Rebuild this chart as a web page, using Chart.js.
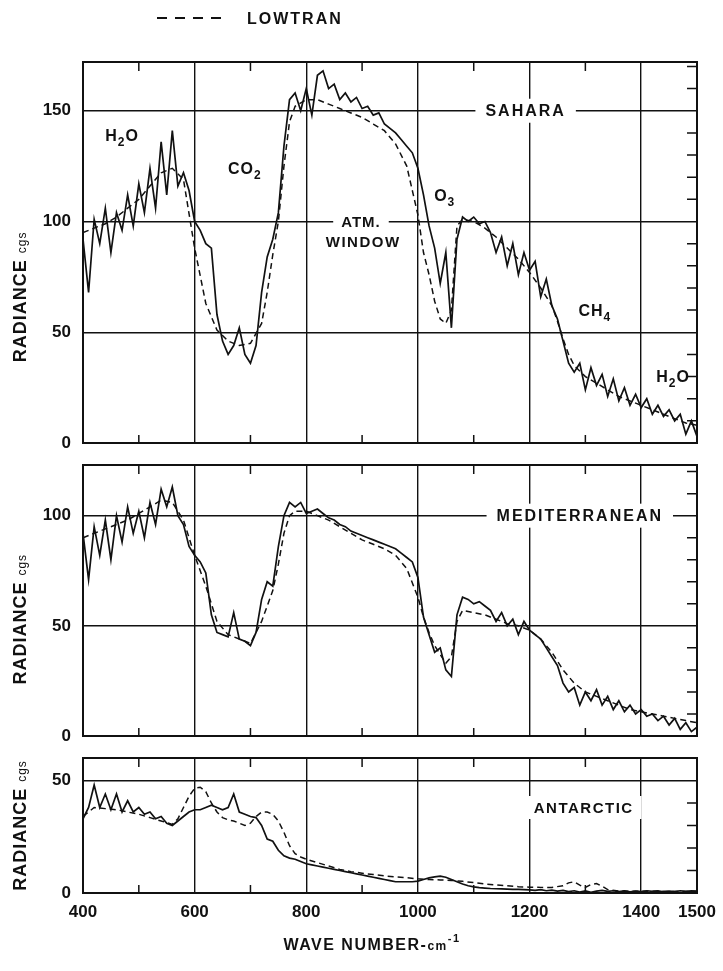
<!DOCTYPE html>
<html><head><meta charset="utf-8">
<script src="https://cdn.jsdelivr.net/npm/chart.js@4/dist/chart.umd.min.js"></script>
<style>
html,body{margin:0;padding:0;background:#fff;}
body{width:723px;height:971px;position:relative;overflow:hidden;}
.p{position:absolute;left:0;width:723px;}
</style></head><body>
<div class="p" style="top:0;height:455px"><canvas id="c1"></canvas></div>
<div class="p" style="top:455px;height:293px"><canvas id="c2"></canvas></div>
<div class="p" style="top:748px;height:223px"><canvas id="c3"></canvas></div>
<script>
// ---------- DATA ----------
const wavenumbers = [400,410,420,430,440,450,460,470,480,490,500,510,520,530,540,550,560,570,580,590,
600,610,620,630,640,650,660,670,680,690,700,710,720,730,740,750,760,770,780,790,
800,810,820,830,840,850,860,870,880,890,900,910,920,930,940,950,960,970,980,990,
1000,1010,1020,1030,1040,1050,1060,1070,1080,1090,1100,1110,1120,1130,1140,1150,1160,1170,1180,1190,
1200,1210,1220,1230,1240,1250,1260,1270,1280,1290,1300,1310,1320,1330,1340,1350,1360,1370,1380,1390,
1400,1410,1420,1430,1440,1450,1460,1470,1480,1490,1500];

const saharaMeasured = [92,68,101,90,106,86,104,96,112,98,
117,104,124,106,136,112,141,116,122,114,
100,96,90,88,58,46,40,44,52,40,
36,44,68,84,92,104,134,155,158,150,
160,148,166,168,160,162,155,158,154,156,
151,152,148,149,144,142,140,137,134,131,
124,112,98,88,72,86,52,92,102,100,
102,99,100,95,86,93,80,90,76,86,
78,82,66,74,62,56,46,36,32,36,
24,34,26,31,21,29,19,25,17,22,
16,20,13,17,12,15,10,13,4,10,3];

const saharaLowtranWn = [400,420,440,460,480,500,520,540,560,580,600,620,640,660,680,700,720,730,740,750,760,770,780,800,820,840,860,880,900,920,940,960,980,1000,1010,1020,1030,1040,1050,1060,1070,1080,1100,1120,1140,1160,1180,1200,1220,1240,1250,1260,1270,1280,1300,1320,1340,1360,1380,1400,1420,1440,1460,1480,1500];
const saharaLowtran = [95,97,99,102,106,110,116,122,124,119,88,63,51,46,44,45,54,68,85,100,125,145,152,155,155,153,151,149,147,144,141,135,125,103,86,76,64,56,54,60,98,101,100,97,93,88,83,77,70,62,55,47,40,35,30,27,24,21,19,17,15,13,11,9,8];

const medMeasured = [92,71,95,82,98,80,100,88,104,92,
102,90,106,96,112,104,113,100,96,86,
82,79,74,55,47,46,45,56,44,43,
41,47,62,70,68,86,100,106,104,106,
101,102,103,101,99,98,96,95,93,92,
91,90,89,88,87,86,85,83,81,79,
72,54,46,38,40,30,27,55,63,62,
60,61,59,57,52,56,50,53,46,52,
48,46,44,40,36,32,24,20,22,14,
20,16,21,14,18,12,16,11,14,10,
12,9,10,7,9,5,8,3,6,2,4];

const medLowtranWn = [400,420,440,460,480,500,520,540,560,580,600,620,640,660,680,700,720,740,750,760,770,780,800,820,840,860,880,900,920,940,960,980,1000,1010,1020,1030,1040,1050,1060,1070,1080,1100,1120,1140,1160,1180,1200,1220,1240,1260,1280,1300,1320,1340,1360,1380,1400,1420,1440,1460,1480,1500];
const medLowtran = [90,92,94,96,98,101,104,107,106,98,82,68,52,46,44,42,52,66,78,92,100,102,102,100,98,95,92,89,87,85,82,76,63,54,47,41,37,33,36,52,57,56,55,53,51,50,48,44,38,30,24,20,18,16,14,12,11,10,9,8,7,6];

const antMeasured = [33,38,48,38,44,37,44,36,41,36,
38,35,36,33,34,31,30,32,34,36,
37,37,38,39,38,37,38,44,36,35,
34,33.5,30,24,23,19,16.5,15.5,15,14,
13,12.5,12,11.5,11,10.5,10,9.5,9,8.5,
8,7.5,7,6.5,6,5.5,5,5,5,5,
5.3,6,6.7,7.2,7.5,7,6,5,4,3.2,
2.7,2.4,2.2,2,1.9,1.8,1.7,1.6,1.6,1.5,
1.4,1.2,1.5,1,1.3,0.8,1.2,0.6,1,0.4,
0.9,0.3,0.8,1.2,0.7,1,0.6,0.9,0.5,0.8,
0.6,1,0.7,0.9,0.5,0.8,0.6,1,0.7,0.9,0.8];

const antLowtranWn = [400,420,440,460,480,500,520,540,560,570,580,590,600,610,620,630,640,650,660,670,680,690,700,710,720,730,740,750,760,770,780,790,800,820,840,860,880,900,920,940,960,980,1000,1020,1040,1060,1080,1100,1120,1140,1160,1180,1200,1220,1240,1260,1270,1280,1290,1300,1310,1320,1330,1340,1360,1380,1400,1450,1500];
const antLowtran = [34,38,37.5,37,36,35,33.5,32,30.5,33,38,43,46.5,47,45,40,36,33.5,32.5,32,31,30,31,34,36,36,35,32,27,21,17.5,16,15,13.5,12,10.5,9.5,8.8,8.2,7.6,7.2,6.8,6.3,6,5.8,5.6,5.2,4.6,4,3.6,3.2,2.8,2.6,2.5,2.5,3.2,4.5,5,3.5,2.5,3.8,4.2,3,1.5,0.9,0.8,0.8,0.7,0.7];

const xTickValues = [400,600,800,1000,1200,1400,1500];
const minorXTicks = [500,700,900,1100,1300];
const saharaYTicks = [0,50,100,150];
const medYTicks = [0,50,100];
const antYTicks = [0,50];
const saharaMinorY = [10,20,30,40,60,70,80,90,110,120,130,140,160,170];
const medMinorY = [10,20,30,40,60,70,80,90,110,120];
const antMinorY = [10,20,30,40];
const legendLabel = 'LOWTRAN';

// ---------- DRAWING HELPERS ----------
const FONT = '"Liberation Sans", Arial, Helvetica, sans-serif';
const INK = '#111';
function P(t, size, weight, shift){ return {t:t, size:size, weight:weight||'bold', shift:shift||0}; }
function measureParts(ctx, parts, sp){
  let w = 0;
  parts.forEach(p => { ctx.font = p.weight+' '+p.size+'px '+FONT; ctx.letterSpacing = sp+'px'; p._w = ctx.measureText(p.t).width; w += p._w; });
  return w;
}
function fillParts(ctx, parts, left, baseline, sp){
  let x = left;
  ctx.textAlign = 'left'; ctx.textBaseline = 'alphabetic';
  parts.forEach(p => { ctx.font = p.weight+' '+p.size+'px '+FONT; ctx.letterSpacing = sp+'px'; ctx.fillText(p.t, x, baseline + p.shift); x += p._w; });
}

const deco = {
  id: 'deco',
  beforeDatasetsDraw(chart, args, o){
    const ctx = chart.ctx, xs = chart.scales.x, ys = chart.scales.y;
    ctx.save();
    (o.labels || []).forEach(l => {
      const sp = l.sp == null ? 1 : l.sp;
      const w = measureParts(ctx, l.parts, sp);
      const size = Math.max.apply(null, l.parts.map(p => p.size));
      const cx = xs.getPixelForValue(l.x), cy = ys.getPixelForValue(l.y);
      if (l.box){
        const px = l.padX == null ? 6 : l.padX;
        ctx.fillStyle = '#fff';
        ctx.fillRect(cx - w/2 - px, cy - size/2 - 4, w + 2*px, size + 8);
      }
      ctx.fillStyle = INK;
      fillParts(ctx, l.parts, cx - w/2, cy + size*0.36, sp);
    });
    ctx.restore();
  },
  afterDraw(chart, args, o){
    const ctx = chart.ctx, ca = chart.chartArea, xs = chart.scales.x, ys = chart.scales.y;
    ctx.save();
    ctx.strokeStyle = INK; ctx.fillStyle = INK;
    // minor ticks (inward)
    ctx.lineWidth = 1.5;
    ctx.beginPath();
    minorXTicks.forEach(v => {
      const x = xs.getPixelForValue(v);
      ctx.moveTo(x, ca.top); ctx.lineTo(x, ca.top + 9);
      ctx.moveTo(x, ca.bottom); ctx.lineTo(x, ca.bottom - 8);
    });
    (o.minorY || []).forEach(v => {
      const y = ys.getPixelForValue(v);
      ctx.moveTo(ca.right, y); ctx.lineTo(ca.right - 10, y);
    });
    ctx.stroke();
    // frame
    ctx.lineWidth = 2;
    ctx.strokeRect(ca.left, ca.top, ca.right - ca.left, ca.bottom - ca.top);
    // y title
    if (o.yTitle){
      const parts = [P('RADIANCE ', 18, 'bold'), P('cgs', 12, 'normal')];
      const w = measureParts(ctx, parts, 1);
      ctx.translate(o.yTitle.x, ys.getPixelForValue(o.yTitle.v));
      ctx.rotate(-Math.PI/2);
      fillParts(ctx, parts, -w/2, 6, 1);
      ctx.setTransform(1,0,0,1,0,0);
    }
    // x title
    if (o.xTitle){
      const parts = [P('WAVE NUMBER-', 16, 'bold'), P('cm', 12, 'bold'), P('-1', 11, 'bold', -8)];
      const w = measureParts(ctx, parts, 1.5);
      fillParts(ctx, parts, o.xTitle.cx - w/2, o.xTitle.y, 1.5);
    }
    // legend
    if (o.legend){
      const ds = chart.data.datasets[o.legend.ds];
      ctx.lineWidth = 2;
      ctx.setLineDash([10, 8]);
      ctx.beginPath();
      ctx.moveTo(o.legend.x1, o.legend.y); ctx.lineTo(o.legend.x2, o.legend.y);
      ctx.stroke();
      ctx.setLineDash([]);
      const parts = [P(ds.label, 16, 'bold')];
      measureParts(ctx, parts, 2);
      fillParts(ctx, parts, o.legend.tx, o.legend.y + 6, 2);
    }
    ctx.restore();
  }
};

function zeroPad(s){ s.paddingTop = 0; s.paddingBottom = 0; s.paddingLeft = 0; s.paddingRight = 0; }

function makeChart(id, p){
  const tickFont = {family: FONT, size: 17, weight: 'bold'};
  return new Chart(document.getElementById(id), {
    type: 'line',
    data: { datasets: [
      { label: 'Measured', data: wavenumbers.map((x,i) => ({x: x, y: p.meas[i]})),
        borderColor: INK, borderWidth: 1.7, pointRadius: 0, tension: 0, fill: false },
      { label: legendLabel, data: p.lwn.map((x,i) => ({x: x, y: p.low[i]})),
        borderColor: INK, borderWidth: 1.5, borderDash: [6,4], pointRadius: 0, tension: 0, fill: false }
    ]},
    options: {
      responsive: true, maintainAspectRatio: false, animation: false, devicePixelRatio: 1,
      layout: { padding: { top: p.padTop, right: 26, bottom: p.padBottom, left: 0 } },
      plugins: { legend: { display: false }, tooltip: { enabled: false }, deco: p.deco },
      scales: {
        x: { type: 'linear', min: 400, max: 1500,
          afterBuildTicks: s => { s.ticks = xTickValues.map(v => ({value: v})); },
          afterFit: s => { s.height = p.xHeight; zeroPad(s); },
          grid: { color: INK, lineWidth: 1.4, drawTicks: false },
          border: { display: false },
          ticks: { display: p.showX, color: INK, font: tickFont, padding: 9, maxRotation: 0, autoSkip: false,
                   callback: v => String(v) } },
        y: { type: 'linear', min: 0, max: p.yMax,
          afterBuildTicks: s => { s.ticks = p.yTicks.map(v => ({value: v})); },
          afterFit: s => { s.width = 83; zeroPad(s); },
          grid: { color: INK, lineWidth: 1.4, drawTicks: false },
          border: { display: false },
          ticks: { color: INK, font: tickFont, padding: 12, callback: v => String(v) } }
      }
    },
    plugins: [deco]
  });
}

makeChart('c1', {
  meas: saharaMeasured, lwn: saharaLowtranWn, low: saharaLowtran,
  yMax: 172, yTicks: saharaYTicks, padTop: 62, padBottom: 12, xHeight: 0, showX: false,
  deco: {
    minorY: saharaMinorY,
    yTitle: {x: 20, v: 66},
    legend: {ds: 1, x1: 157, x2: 226, y: 18, tx: 247},
    labels: [
      {parts: [P('H',16), P('2',12,'bold',5), P('O',16)], x: 470, y: 139},
      {parts: [P('CO',16), P('2',12,'bold',5)], x: 690, y: 124},
      {parts: [P('ATM.',15)], x: 898, y: 100, box: true, padX: 8},
      {parts: [P('WINDOW',15)], x: 902, y: 91, sp: 1.5},
      {parts: [P('O',16), P('3',12,'bold',5)], x: 1048, y: 112},
      {parts: [P('CH',16), P('4',12,'bold',5)], x: 1317, y: 60},
      {parts: [P('H',16), P('2',12,'bold',5), P('O',16)], x: 1457, y: 30},
      {parts: [P('SAHARA',16)], x: 1193, y: 150, box: true, sp: 2, padX: 10}
    ]
  }
});

makeChart('c2', {
  meas: medMeasured, lwn: medLowtranWn, low: medLowtran,
  yMax: 123, yTicks: medYTicks, padTop: 10, padBottom: 12, xHeight: 0, showX: false,
  deco: {
    minorY: medMinorY,
    yTitle: {x: 20, v: 53},
    labels: [
      {parts: [P('MEDITERRANEAN',16)], x: 1290, y: 100, box: true, sp: 2, padX: 10}
    ]
  }
});

makeChart('c3', {
  meas: antMeasured, lwn: antLowtranWn, low: antLowtran,
  yMax: 60, yTicks: antYTicks, padTop: 10, padBottom: 0, xHeight: 78, showX: true,
  deco: {
    minorY: antMinorY,
    yTitle: {x: 20, v: 30},
    xTitle: {cx: 372, y: 202},
    labels: [
      {parts: [P('ANTARCTIC',15)], x: 1297, y: 38, box: true, sp: 1.5, padX: 8}
    ]
  }
});
</script>
</body></html>
